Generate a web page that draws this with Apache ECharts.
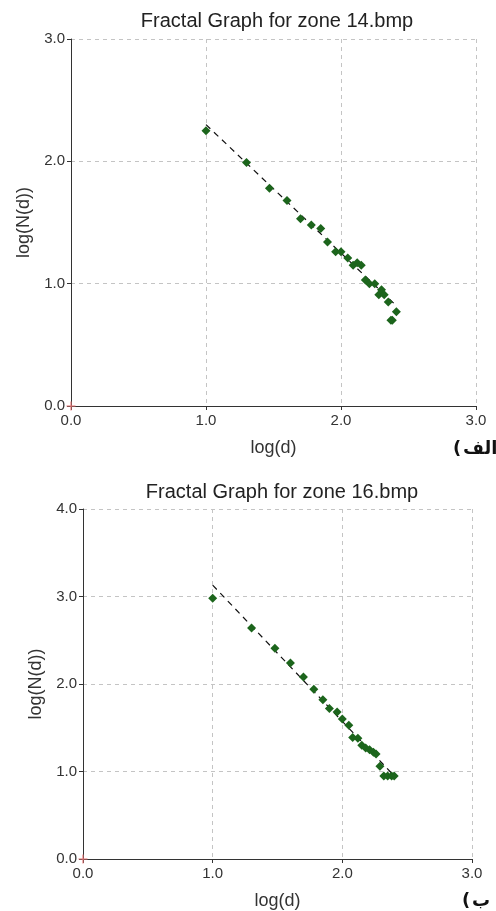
<!DOCTYPE html>
<html>
<head>
<meta charset="utf-8">
<script src="https://cdn.jsdelivr.net/npm/echarts@6/dist/echarts.min.js"></script>
<style>
html,body{margin:0;padding:0;background:#fff;}
#c{width:496px;height:911px;}
</style>
</head>
<body>
<div id="c"></div>
<script>
// ---- Data ----
const title1 = 'Fractal Graph for zone 14.bmp';
const title2 = 'Fractal Graph for zone 16.bmp';
const xName = 'log(d)';
const yName = 'log(N(d))';
const panelWord1 = 'الف';
const panelWord2 = 'ب';
const panelParen = '(';

const xTicks1 = ['0.0', '1.0', '2.0', '3.0'];
const yTicks1 = ['0.0', '1.0', '2.0', '3.0'];
const xTicks2 = ['0.0', '1.0', '2.0', '3.0'];
const yTicks2 = ['0.0', '1.0', '2.0', '3.0', '4.0'];

// zone 14 points
const logD1 = [1.00, 1.30, 1.47, 1.60, 1.70, 1.78, 1.85, 1.90, 1.96, 2.00, 2.05, 2.09, 2.12, 2.15, 2.18, 2.21, 2.25, 2.28, 2.30, 2.32, 2.35, 2.41, 2.37, 2.38];
const logN1 = [2.25, 1.99, 1.78, 1.68, 1.53, 1.48, 1.45, 1.34, 1.26, 1.26, 1.21, 1.15, 1.17, 1.15, 1.03, 1.00, 1.00, 0.91, 0.95, 0.91, 0.85, 0.77, 0.70, 0.70];
// zone 14 fitted line (end points)
const fitX1 = [1.00, 2.40];
const fitY1 = [2.30, 0.83];

// zone 16 points
const logD2 = [1.00, 1.30, 1.48, 1.60, 1.70, 1.78, 1.85, 1.90, 1.96, 2.00, 2.05, 2.08, 2.12, 2.15, 2.18, 2.21, 2.24, 2.26, 2.29, 2.32, 2.35, 2.38, 2.40];
const logN2 = [2.98, 2.64, 2.41, 2.24, 2.08, 1.94, 1.82, 1.72, 1.68, 1.60, 1.53, 1.39, 1.38, 1.30, 1.27, 1.25, 1.22, 1.20, 1.06, 0.95, 0.95, 0.95, 0.95];
// zone 16 fitted line (end points)
const fitX2 = [1.00, 2.40];
const fitY2 = [3.13, 0.95];

// ---- Chart ----
const FONT = '"Liberation Sans", Arial, sans-serif';
const TXT = '#333';
const GREEN = '#1c651c';

function zip(a, b) { return a.map((v, i) => [v, b[i]]); }

function xAxis(gi, ticks) {
  return {
    gridIndex: gi, type: 'value',
    min: parseFloat(ticks[0]), max: parseFloat(ticks[ticks.length - 1]), interval: 1,
    name: xName, nameLocation: 'middle', nameGap: 33,
    nameTextStyle: { fontSize: 18, color: TXT, fontFamily: FONT },
    axisLine: { show: true, onZero: false, lineStyle: { color: '#333', width: 1 } },
    axisTick: { show: true, length: 4, lineStyle: { color: '#333' } },
    axisLabel: { fontSize: 15, color: TXT, fontFamily: FONT, margin: 7,
      formatter: v => ticks[Math.round(v - parseFloat(ticks[0]))] },
    splitLine: { show: true, lineStyle: { type: [4, 4], color: '#c4c4c4', width: 1 } }
  };
}
function yAxis(gi, ticks, gap) {
  return {
    gridIndex: gi, type: 'value',
    min: parseFloat(ticks[0]), max: parseFloat(ticks[ticks.length - 1]), interval: 1,
    name: yName, nameLocation: 'middle', nameGap: gap, nameRotate: 90,
    nameTextStyle: { fontSize: 18, color: TXT, fontFamily: FONT },
    axisLine: { show: true, onZero: false, lineStyle: { color: '#333', width: 1 } },
    axisTick: { show: true, length: 4, lineStyle: { color: '#333' } },
    axisLabel: { fontSize: 15, color: TXT, fontFamily: FONT, margin: 6,
      formatter: v => ticks[Math.round(v - parseFloat(ticks[0]))] },
    splitLine: { show: true, lineStyle: { type: [4, 4], color: '#c4c4c4', width: 1 } }
  };
}

const originMark = {
  silent: true,
  symbol: 'path://M0,4.4H10V5.6H0Z M4.4,0H5.6V10H4.4Z',
  symbolSize: 9,
  itemStyle: { color: '#e57373', opacity: 1 },
  label: { show: false },
  data: [{ coord: [0, 0] }]
};

function scatter(gi, xs, ys) {
  return {
    type: 'scatter', xAxisIndex: gi, yAxisIndex: gi,
    data: zip(xs, ys), symbol: 'diamond', symbolSize: 9,
    itemStyle: { color: GREEN, opacity: 1 }, z: 3,
    markPoint: originMark
  };
}
function fit(gi, xs, ys) {
  return {
    type: 'line', xAxisIndex: gi, yAxisIndex: gi,
    data: zip(xs, ys), symbol: 'none',
    lineStyle: { color: '#111', width: 1.2, type: [6, 5] }, z: 2
  };
}

const chart = echarts.init(document.getElementById('c'), null, { renderer: 'canvas' });
chart.setOption({
  backgroundColor: '#fff',
  animation: false,
  title: [
    { text: title1, left: 272, top: 6, textAlign: 'center',
      textStyle: { fontSize: 20, fontWeight: 'normal', color: '#222', fontFamily: FONT } },
    { text: title2, left: 277, top: 477, textAlign: 'center',
      textStyle: { fontSize: 20, fontWeight: 'normal', color: '#222', fontFamily: FONT } }
  ],
  grid: [
    { left: 71, right: 20, top: 39, height: 367 },
    { left: 83, right: 24, top: 509, height: 352 }
  ],
  xAxis: [xAxis(0, xTicks1), xAxis(1, xTicks2)],
  yAxis: [yAxis(0, yTicks1, 38), yAxis(1, yTicks2, 38)],
  series: [
    fit(0, fitX1, fitY1),
    scatter(0, logD1, logN1),
    fit(1, fitX2, fitY2),
    scatter(1, logD2, logN2)
  ],
  graphic: [
    { type: 'text', left: 453, top: 440,
      style: { text: panelParen, font: 'bold 18px "DejaVu Sans"', fill: '#111' } },
    { type: 'text', left: 463, top: 440,
      style: { text: panelWord1, font: 'bold 18px "DejaVu Sans"', fill: '#111' } },
    { type: 'text', left: 462, top: 892,
      style: { text: panelParen, font: 'bold 18px "DejaVu Sans"', fill: '#111' } },
    { type: 'text', left: 472, top: 892,
      style: { text: panelWord2, font: 'bold 18px "DejaVu Sans"', fill: '#111' } }
  ]
});
</script>
</body>
</html>
